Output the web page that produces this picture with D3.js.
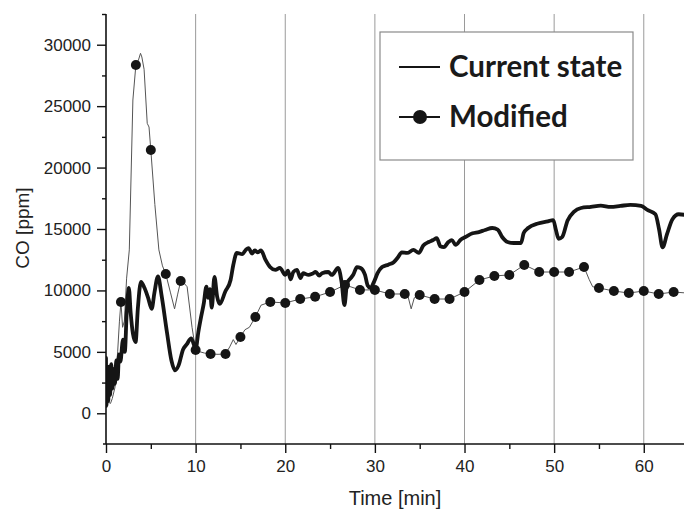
<!DOCTYPE html>
<html>
<head>
<meta charset="utf-8">
<script src="https://cdn.jsdelivr.net/npm/d3@7/dist/d3.min.js"></script>
<style>
  html, body { margin: 0; padding: 0; background: #fff; }
  svg { display: block; }
  .tick text { font-family: "Liberation Sans", Arial, sans-serif; font-size: 17px; fill: #222; }
</style>
</head>
<body>
<svg id="chart" width="684" height="509"></svg>
<script>
// CO concentration over time: current state vs. modified configuration

// Current state: [time in min, CO in ppm]
const currentState = [
  [0.0, 4500], [0.05, 600], [0.15, 2500], [0.25, 1000], [0.35, 3800], [0.45, 1500],
  [0.6, 4000], [0.7, 2000], [0.85, 3600], [1.0, 2400], [1.15, 4300], [1.3, 2800],
  [1.45, 4800], [1.6, 4200], [1.9, 6000], [2.1, 5000], [2.3, 8000], [2.55, 10200],
  [2.75, 8200], [3.0, 6500], [3.3, 5800], [3.55, 8500], [3.9, 10700], [4.3, 10200],
  [4.7, 9400], [5.1, 8500], [5.4, 9800], [5.8, 11150], [6.2, 9600], [6.8, 6600],
  [7.3, 4300], [7.7, 3500], [8.1, 3900], [8.6, 5200], [9.0, 5600], [9.5, 6100],
  [9.8, 5600], [10.0, 5200], [10.3, 6600], [10.6, 7800], [10.9, 8900], [11.2, 10300],
  [11.4, 9400], [11.6, 10100], [11.8, 8600], [12.1, 11100], [12.4, 9500], [12.7, 8900],
  [13.3, 9900], [13.9, 10850], [14.2, 12070], [14.6, 13050], [15.2, 12950], [15.6, 13300],
  [15.9, 13450], [16.3, 13000], [16.6, 13250], [16.9, 13100], [17.3, 13250], [17.8, 12480],
  [18.3, 11910], [18.9, 11670], [19.4, 11830], [20.0, 11260], [20.3, 11600], [20.6, 10900],
  [20.9, 11500], [21.3, 11670], [21.7, 11000], [22.0, 11400], [22.6, 11260], [23.0, 11350],
  [23.4, 11500], [23.8, 11200], [24.1, 11400], [24.8, 11500], [25.2, 11260], [25.9, 11830],
  [26.3, 10600], [26.6, 8800], [26.9, 10600], [27.3, 11000], [27.6, 11300], [28.0, 11900],
  [28.4, 11830], [28.9, 11260], [29.2, 10400], [29.5, 10200], [29.9, 10700], [30.3, 11400],
  [30.8, 11900], [31.5, 12100], [32.1, 12300], [32.6, 12720], [33.0, 13100], [33.6, 13050],
  [34.3, 13300], [34.9, 13050], [35.4, 13650], [36.0, 13940], [36.5, 14100], [36.9, 14260],
  [37.3, 13600], [37.7, 13530], [38.2, 13940], [38.6, 14100], [39.0, 13700], [39.6, 14150],
  [40.1, 14350], [40.9, 14650], [41.6, 14750], [42.3, 14920], [43.1, 15080], [43.7, 14950],
  [44.2, 14350], [44.8, 13940], [45.5, 13860], [46.3, 13860], [46.6, 14670], [47.1, 15080],
  [48.2, 15450], [49.3, 15620], [49.9, 15730], [50.2, 14920], [50.5, 14200], [50.9, 14350],
  [51.5, 15700], [52.2, 16390], [53.0, 16710], [54.1, 16800], [55.2, 16900], [56.3, 16800],
  [57.4, 16880], [58.5, 16960], [59.7, 16880], [60.4, 16550], [61.3, 16200], [61.7, 15000],
  [62.1, 13500], [62.6, 14600], [63.2, 15800], [63.9, 16200], [64.6, 16150]
];

// Modified: sampled every 100 s (marker values, ppm)
const markerStepMin = 100 / 60;
const modifiedMarkers = [
  9060, 28350, 21430, 11340, 10770, 5150, 4830, 4830, 6210, 7840,
  9060, 8980, 9300, 9480, 9870, 10450, 10040, 10040, 9710, 9710,
  9630, 9300, 9300, 9870, 10850, 11180, 11260, 12070, 11500, 11500,
  11500, 11910, 10200, 9950, 9790, 9950, 9710, 9870
];

// Modified: readings between the markers [time in min, CO in ppm]
const modifiedBetween = [
  [0, 700], [0.3, 900], [0.5, 800], [0.7, 1200], [1.0, 2100], [1.3, 5000], [1.5, 7500],
  [1.85, 7000], [2.05, 7500], [2.3, 11000], [2.6, 13300], [3.0, 25500],
  [3.6, 28700], [3.85, 29300], [4.0, 29000], [4.25, 28000], [4.6, 23600], [4.8, 23300],
  [5.45, 17000], [5.9, 13300], [6.3, 12000], [7.2, 9800], [7.65, 8500], [8.0, 9700],
  [8.7, 10600], [9.05, 10300], [9.6, 7000], [10.5, 5000], [11.0, 4900], [12.5, 4800],
  [13.8, 5400], [14.2, 6000], [14.5, 5600], [15.5, 6800], [16.0, 7000], [17.3, 8800],
  [33.7, 9500], [34.05, 8500], [34.4, 9400], [47.2, 11900], [53.9, 10900], [54.3, 10300],
  [64.6, 9800]
];

const xMajorTicks = [0, 10, 20, 30, 40, 50, 60];
const xMinorTicks = [5, 15, 25, 35, 45, 55];
const yMajorTicks = [0, 5000, 10000, 15000, 20000, 25000, 30000];
const yMinorTicks = [2500, 7500, 12500, 17500, 22500, 27500, 32500];
const gridTimes = [10, 20, 30, 40, 50, 60];
const legendItems = ["Current state", "Modified"];
const xTitle = "Time [min]";
const yTitle = "CO [ppm]";

const svg = d3.select("#chart");
const W = 684, H = 509;
const plotLeft = 106, plotRight = 685, plotTop = 14, plotBottom = 444;

const x = d3.scaleLinear().domain([0, 64.6]).range([plotLeft, plotRight]);
const y = d3.scaleLinear().domain([-2500, 32500]).range([plotBottom, plotTop]);

svg.append("rect").attr("width", W).attr("height", H).attr("fill", "#fff");

// vertical grid lines
svg.append("g").selectAll("line").data(gridTimes).join("line")
  .attr("x1", d => x(d)).attr("x2", d => x(d))
  .attr("y1", plotTop).attr("y2", plotBottom)
  .attr("stroke", "#9a9a9a").attr("stroke-width", 1);

svg.append("clipPath").attr("id", "plot-clip")
  .append("rect").attr("x", plotLeft).attr("y", plotTop - 10)
  .attr("width", plotRight - plotLeft).attr("height", plotBottom - plotTop + 10);

const modifiedMarkerPts = modifiedMarkers.map((v, i) => [(i + 1) * markerStepMin, v]);
const modifiedTrace = modifiedMarkerPts.concat(modifiedBetween).sort((a, b) => a[0] - b[0]);

const line = d3.line().x(d => x(d[0])).y(d => y(d[1])).curve(d3.curveMonotoneX);
const plot = svg.append("g").attr("clip-path", "url(#plot-clip)");

// modified: thin trace
plot.append("path").datum(modifiedTrace)
  .attr("d", d3.line().x(d => x(d[0])).y(d => y(d[1])))
  .attr("fill", "none").attr("stroke", "#555").attr("stroke-width", 1);

// current state: heavy line
plot.append("path").datum(currentState)
  .attr("d", line)
  .attr("fill", "none").attr("stroke", "#151515")
  .attr("stroke-width", 3.8).attr("stroke-linejoin", "round").attr("stroke-linecap", "round");

// modified: markers
plot.append("g").selectAll("circle").data(modifiedMarkerPts).join("circle")
  .attr("cx", d => x(d[0])).attr("cy", d => y(d[1])).attr("r", 5)
  .attr("fill", "#151515");

// axes
const yAxis = svg.append("g").attr("transform", `translate(${plotLeft},0)`)
  .call(d3.axisLeft(y).tickValues(yMajorTicks).tickSize(9).tickPadding(6).tickFormat(d3.format("d")));
const yMinor = svg.append("g").attr("transform", `translate(${plotLeft},0)`)
  .call(d3.axisLeft(y).tickValues(yMinorTicks).tickSize(4).tickFormat(""));
const xAxis = svg.append("g").attr("transform", `translate(0,${plotBottom})`)
  .call(d3.axisBottom(x).tickValues(xMajorTicks).tickSize(9).tickPadding(7).tickFormat(d3.format("d")));
const xMinor = svg.append("g").attr("transform", `translate(0,${plotBottom})`)
  .call(d3.axisBottom(x).tickValues(xMinorTicks).tickSize(5).tickFormat(""));

[yAxis, yMinor, xAxis, xMinor].forEach(g => {
  g.select(".domain").remove();
  g.selectAll(".tick line").attr("stroke", "#111").attr("stroke-width", 1.4);
});

svg.append("line").attr("x1", plotLeft).attr("x2", plotLeft).attr("y1", plotTop).attr("y2", plotBottom)
  .attr("stroke", "#111").attr("stroke-width", 1.6);
svg.append("line").attr("x1", plotLeft - 3).attr("x2", W).attr("y1", plotBottom).attr("y2", plotBottom)
  .attr("stroke", "#111").attr("stroke-width", 1.6);

// axis titles
svg.append("text").attr("x", 395).attr("y", 505).attr("text-anchor", "middle")
  .attr("font-family", "Liberation Sans, Arial, sans-serif").attr("font-size", 20).attr("fill", "#222")
  .text(xTitle);
svg.append("text").attr("transform", "translate(29,228) rotate(-90)").attr("text-anchor", "middle")
  .attr("font-family", "Liberation Sans, Arial, sans-serif").attr("font-size", 19).attr("fill", "#222")
  .text(yTitle);

// legend
const lg = svg.append("g");
lg.append("rect").attr("x", 380).attr("y", 32).attr("width", 253).attr("height", 128)
  .attr("fill", "#fff").attr("stroke", "#8a8a8a").attr("stroke-width", 1.2);
const rowY = [67, 117];
lg.selectAll("line.sample").data(legendItems).join("line").attr("class", "sample")
  .attr("x1", 399).attr("x2", 440).attr("y1", (d, i) => rowY[i]).attr("y2", (d, i) => rowY[i])
  .attr("stroke", "#151515").attr("stroke-width", 2);
lg.append("circle").attr("cx", 420).attr("cy", rowY[1]).attr("r", 7).attr("fill", "#151515");
lg.selectAll("text").data(legendItems).join("text")
  .attr("x", 449).attr("y", (d, i) => rowY[i] + 10)
  .attr("font-family", "Lato, 'Open Sans', sans-serif").attr("font-weight", 700)
  .attr("font-size", 29.5).attr("fill", "#1a1a1a")
  .text(d => d);
</script>
</body>
</html>
